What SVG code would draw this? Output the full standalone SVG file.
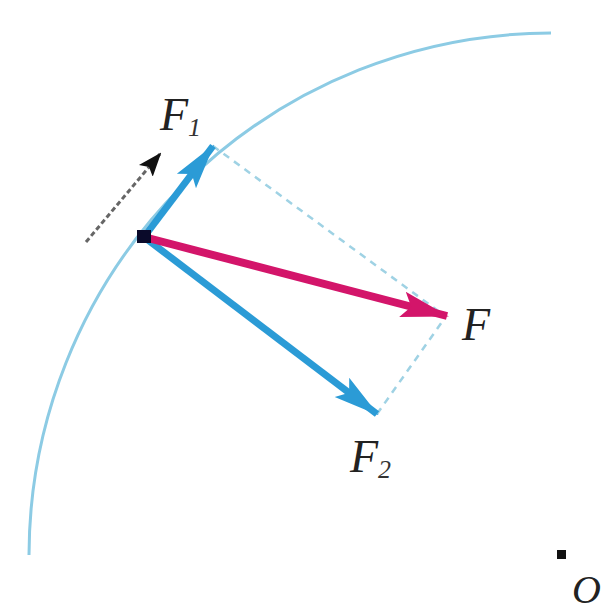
<svg xmlns="http://www.w3.org/2000/svg" width="612" height="615" viewBox="0 0 612 615">
<defs>
<marker id="hb" markerUnits="userSpaceOnUse" markerWidth="46" markerHeight="28" refX="44" refY="14" orient="auto"><path d="M0,2 L46,14 L0,26 L9,14 Z" fill="#2b9bd6"/></marker>
<marker id="hm" markerUnits="userSpaceOnUse" markerWidth="48" markerHeight="30" refX="46" refY="15" orient="auto"><path d="M0,2 L48,15 L0,28 L9,15 Z" fill="#d3156a"/></marker>
<marker id="hk" markerUnits="userSpaceOnUse" markerWidth="24" markerHeight="20" refX="22" refY="10" orient="auto"><path d="M0,1 L24,10 L0,19 L5,10 Z" fill="#111"/></marker>
</defs>
<style>
.arc{fill:none;stroke:#8ccbe4;stroke-width:3}
.dash{fill:none;stroke:#9fd2e4;stroke-width:2.5;stroke-dasharray:7 6}
.vel{fill:none;stroke:#666;stroke-width:3;stroke-dasharray:5 3}
.fb{stroke:#2b9bd6;stroke-width:7;fill:none}
.fm{stroke:#d3156a;stroke-width:8;fill:none}
.lbl{font-family:"Liberation Serif","Times New Roman",serif;font-style:italic;font-size:46px;fill:#222}
.sub{font-family:"Liberation Serif","Times New Roman",serif;font-size:26px;fill:#333}
</style>
<g id="path-curve"><path class="arc" d="M29,555 A523,523 0 0 1 551,33"/></g>
<g id="connectors">
<line class="dash" x1="213" y1="146" x2="445" y2="316"/>
<line class="dash" x1="377" y1="414" x2="442" y2="322"/>
<line class="vel" x1="86" y1="242" x2="160" y2="154" marker-end="url(#hk)"/>
<line class="fb" x1="144" y1="237" x2="213" y2="146" marker-end="url(#hb)"/>
<line class="fb" x1="144" y1="237" x2="377" y2="414" marker-end="url(#hb)"/>
<line class="fm" x1="144" y1="237" x2="447" y2="316" marker-end="url(#hm)"/>
</g>
<g id="point"><rect x="137" y="230" width="14" height="13" fill="#0a0a2a"/></g>
<g id="center-O"><rect x="557" y="550" width="9" height="9" fill="#111"/><text class="lbl" x="572" y="603" style="font-size:40px">O</text></g>
<g id="label-F1"><text class="lbl" x="160" y="130">F<tspan class="sub" dy="6">1</tspan></text></g>
<g id="label-F"><text class="lbl" x="462" y="340">F</text></g>
<g id="label-F2"><text class="lbl" x="350" y="472">F<tspan class="sub" dy="6">2</tspan></text></g>
</svg>
